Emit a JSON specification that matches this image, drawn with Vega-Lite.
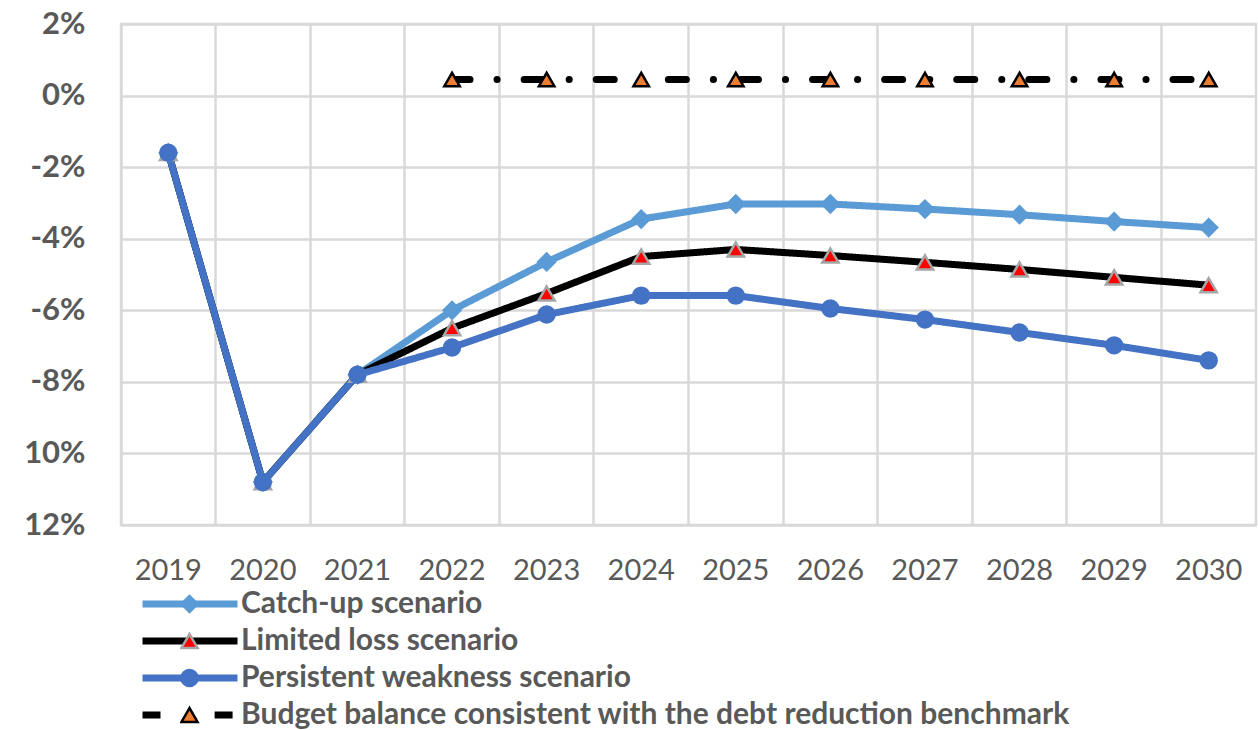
{
  "$schema": "https://vega.github.io/schema/vega-lite/v6.json",
  "width": 1135,
  "height": 501,
  "autosize": "none",
  "padding": {"left": 121, "top": 24, "right": 2, "bottom": 205},
  "background": "white",
  "config": {
    "font": "Lato",
    "view": {"stroke": "#d9d9d9", "strokeWidth": 2.5},
    "axis": {"labelColor": "#595959", "gridColor": "#d9d9d9", "gridWidth": 2.5, "domain": false, "ticks": false, "title": null}
  },
  "data": {
    "values": [
      {"year": "2019", "series": "Catch-up scenario", "value": -1.6},
      {"year": "2020", "series": "Catch-up scenario", "value": -10.8},
      {"year": "2021", "series": "Catch-up scenario", "value": -7.8},
      {"year": "2022", "series": "Catch-up scenario", "value": -6.0},
      {"year": "2023", "series": "Catch-up scenario", "value": -4.65},
      {"year": "2024", "series": "Catch-up scenario", "value": -3.45},
      {"year": "2025", "series": "Catch-up scenario", "value": -3.03},
      {"year": "2026", "series": "Catch-up scenario", "value": -3.03},
      {"year": "2027", "series": "Catch-up scenario", "value": -3.17},
      {"year": "2028", "series": "Catch-up scenario", "value": -3.33},
      {"year": "2029", "series": "Catch-up scenario", "value": -3.52},
      {"year": "2030", "series": "Catch-up scenario", "value": -3.69},
      {"year": "2019", "series": "Limited loss scenario", "value": -1.6},
      {"year": "2020", "series": "Limited loss scenario", "value": -10.8},
      {"year": "2021", "series": "Limited loss scenario", "value": -7.8},
      {"year": "2022", "series": "Limited loss scenario", "value": -6.5},
      {"year": "2023", "series": "Limited loss scenario", "value": -5.53},
      {"year": "2024", "series": "Limited loss scenario", "value": -4.5},
      {"year": "2025", "series": "Limited loss scenario", "value": -4.3},
      {"year": "2026", "series": "Limited loss scenario", "value": -4.47},
      {"year": "2027", "series": "Limited loss scenario", "value": -4.66},
      {"year": "2028", "series": "Limited loss scenario", "value": -4.86},
      {"year": "2029", "series": "Limited loss scenario", "value": -5.08},
      {"year": "2030", "series": "Limited loss scenario", "value": -5.3},
      {"year": "2019", "series": "Persistent weakness scenario", "value": -1.6},
      {"year": "2020", "series": "Persistent weakness scenario", "value": -10.8},
      {"year": "2021", "series": "Persistent weakness scenario", "value": -7.8},
      {"year": "2022", "series": "Persistent weakness scenario", "value": -7.04},
      {"year": "2023", "series": "Persistent weakness scenario", "value": -6.12},
      {"year": "2024", "series": "Persistent weakness scenario", "value": -5.59},
      {"year": "2025", "series": "Persistent weakness scenario", "value": -5.59},
      {"year": "2026", "series": "Persistent weakness scenario", "value": -5.95},
      {"year": "2027", "series": "Persistent weakness scenario", "value": -6.26},
      {"year": "2028", "series": "Persistent weakness scenario", "value": -6.62},
      {"year": "2029", "series": "Persistent weakness scenario", "value": -6.98},
      {"year": "2030", "series": "Persistent weakness scenario", "value": -7.4},
      {"year": "2022", "series": "Budget balance consistent with the debt reduction benchmark", "value": 0.45},
      {"year": "2023", "series": "Budget balance consistent with the debt reduction benchmark", "value": 0.45},
      {"year": "2024", "series": "Budget balance consistent with the debt reduction benchmark", "value": 0.45},
      {"year": "2025", "series": "Budget balance consistent with the debt reduction benchmark", "value": 0.45},
      {"year": "2026", "series": "Budget balance consistent with the debt reduction benchmark", "value": 0.45},
      {"year": "2027", "series": "Budget balance consistent with the debt reduction benchmark", "value": 0.45},
      {"year": "2028", "series": "Budget balance consistent with the debt reduction benchmark", "value": 0.45},
      {"year": "2029", "series": "Budget balance consistent with the debt reduction benchmark", "value": 0.45},
      {"year": "2030", "series": "Budget balance consistent with the debt reduction benchmark", "value": 0.45}
    ]
  },
  "encoding": {
    "x": {
      "field": "year",
      "type": "ordinal",
      "scale": {"type": "band", "paddingInner": 0, "paddingOuter": 0},
      "axis": {"bandPosition": 0, "labelAngle": 0, "labelFontSize": 29, "labelPadding": 31, "grid": true}
    },
    "y": {
      "field": "value",
      "type": "quantitative",
      "scale": {"domain": [-12, 2], "nice": false, "zero": false},
      "axis": {"values": [-12, -10, -8, -6, -4, -2, 0, 2], "labelExpr": "(datum.value <= -10 ? -datum.value : datum.value) + '%'", "labelFontSize": 31, "labelFontWeight": "bold", "labelPadding": 36, "grid": true}
    }
  },
  "layer": [
    {
      "mark": {"type": "line", "strokeCap": "round", "strokeJoin": "round"},
      "encoding": {
        "color": {
          "field": "series",
          "type": "nominal",
          "scale": {
            "domain": ["Catch-up scenario", "Limited loss scenario", "Persistent weakness scenario", "Budget balance consistent with the debt reduction benchmark"],
            "range": ["#5B9BD5", "#000000", "#4472C4", "#000000"]
          },
          "legend": {"orient": "none", "legendX": 18, "legendY": 565, "title": null, "direction": "vertical", "symbolType": "stroke", "symbolSize": 9025, "symbolStrokeWidth": 7, "clipHeight": 30, "rowPadding": 7, "labelOffset": 0, "labelFontSize": 30, "labelFontWeight": "bold", "labelColor": "#595959", "labelLimit": 0, "padding": 0}
        },
        "strokeDash": {
          "field": "series",
          "type": "nominal",
          "scale": {
            "domain": ["Catch-up scenario", "Limited loss scenario", "Persistent weakness scenario", "Budget balance consistent with the debt reduction benchmark"],
            "range": [[1, 0], [1, 0], [1, 0], [18, 27, 0.1, 27]]
          },
          "legend": {"orient": "none", "legendX": 18, "legendY": 565, "title": null, "direction": "vertical", "symbolType": "stroke", "symbolSize": 9025, "symbolStrokeWidth": 7, "clipHeight": 30, "rowPadding": 7, "labelOffset": 0, "labelFontSize": 30, "labelFontWeight": "bold", "labelColor": "#595959", "labelLimit": 0, "padding": 0}
        },
        "strokeWidth": {
          "field": "series",
          "type": "nominal",
          "scale": {
            "domain": ["Catch-up scenario", "Limited loss scenario", "Persistent weakness scenario", "Budget balance consistent with the debt reduction benchmark"],
            "range": [7, 7, 7, 5.5]
          },
          "legend": null
        }
      }
    },
    {
      "mark": {"type": "point", "filled": true, "strokeWidth": 2.5, "opacity": 1},
      "encoding": {
        "fill": {
          "field": "series",
          "type": "nominal",
          "sort": ["Catch-up scenario", "Limited loss scenario", "Persistent weakness scenario", "Budget balance consistent with the debt reduction benchmark"],
          "scale": {"range": ["#5B9BD5", "#FF0000", "#4472C4", "#ED7D31"]},
          "legend": {
            "orient": "none", "legendX": 59, "legendY": 565, "title": null, "direction": "vertical", "symbolSize": 260, "symbolStrokeWidth": 2.5, "clipHeight": 30, "rowPadding": 7, "labelExpr": "''", "padding": 0,
            "symbolType": {"expr": "datum.value === 'Catch-up scenario' ? 'diamond' : (datum.value === 'Persistent weakness scenario' ? 'circle' : 'triangle-up')"},
            "symbolStrokeColor": {"expr": "datum.value === 'Catch-up scenario' ? '#5B9BD5' : (datum.value === 'Persistent weakness scenario' ? '#4472C4' : (datum.value === 'Limited loss scenario' ? '#A6A6A6' : '#000000'))"},
            "encode": {
              "symbols": {
                "stroke": {"value": {"expr": "datum.value === 'Catch-up scenario' ? '#5B9BD5' : (datum.value === 'Persistent weakness scenario' ? '#4472C4' : (datum.value === 'Limited loss scenario' ? '#A6A6A6' : '#000000'))"}},
                "shape": {"value": {"expr": "datum.value === 'Catch-up scenario' ? 'diamond' : (datum.value === 'Persistent weakness scenario' ? 'circle' : 'triangle-up')"}}
              }
            }
          }
        },
        "stroke": {
          "field": "series",
          "type": "nominal",
          "sort": ["Catch-up scenario", "Limited loss scenario", "Persistent weakness scenario", "Budget balance consistent with the debt reduction benchmark"],
          "scale": {"range": ["#5B9BD5", "#A6A6A6", "#4472C4", "#000000"]},
          "legend": null
        },
        "shape": {
          "field": "series",
          "type": "nominal",
          "sort": ["Catch-up scenario", "Limited loss scenario", "Persistent weakness scenario", "Budget balance consistent with the debt reduction benchmark"],
          "scale": {"range": ["diamond", "triangle-up", "circle", "triangle-up"]},
          "legend": null
        },
        "size": {
          "field": "series",
          "type": "nominal",
          "sort": ["Catch-up scenario", "Limited loss scenario", "Persistent weakness scenario", "Budget balance consistent with the debt reduction benchmark"],
          "scale": {"range": [280, 240, 320, 250]},
          "legend": null
        }
      }
    }
  ]
}
